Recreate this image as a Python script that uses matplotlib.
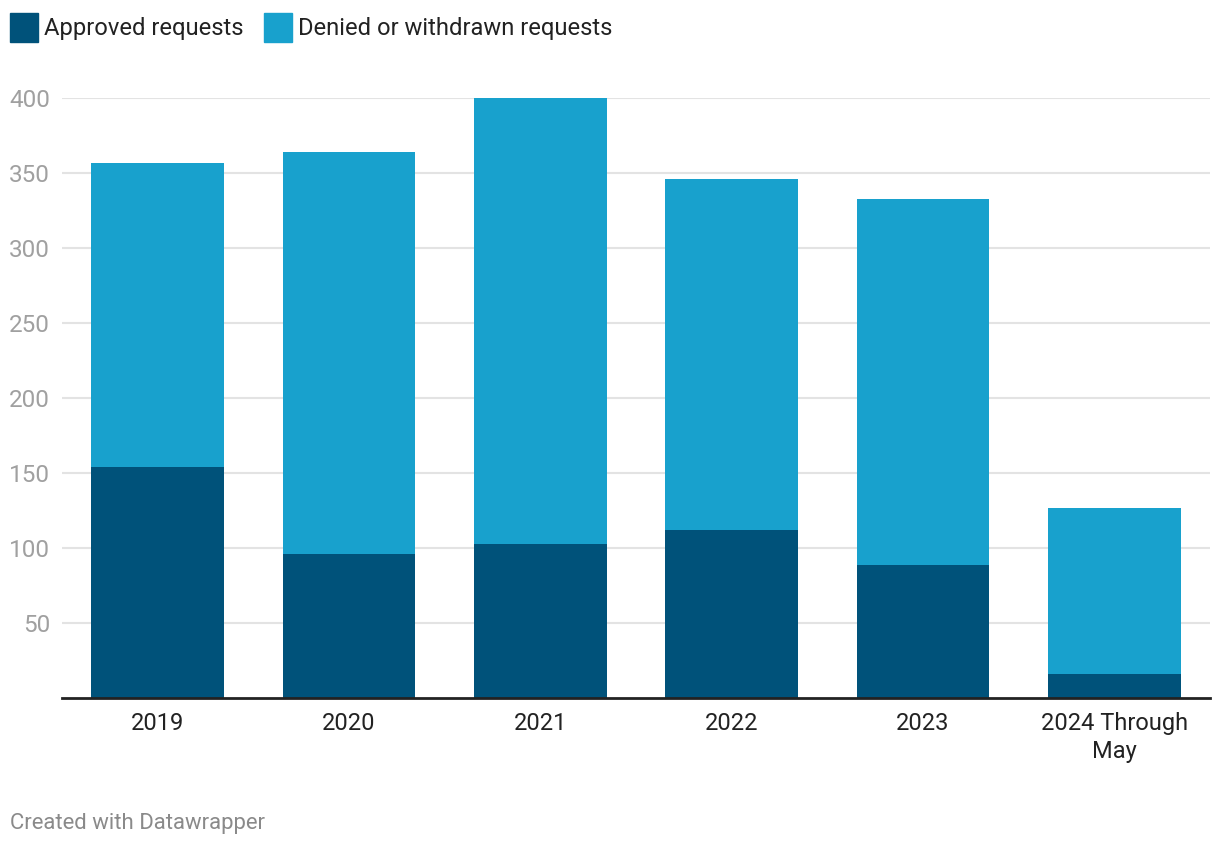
import matplotlib
matplotlib.use("Agg")
import matplotlib.pyplot as plt
from matplotlib.patches import Rectangle

plt.rcParams["font.family"] = ["Roboto", "DejaVu Sans"]

years = ["2019", "2020", "2021", "2022", "2023", "2024 Through\nMay"]
approved = [154, 96, 103, 112, 89, 16]
denied = [203, 268, 297, 234, 244, 111]
y_ticks = [50, 100, 150, 200, 250, 300, 350, 400]

dark = "#00527a"
light = "#18a1cd"

fig = plt.figure(figsize=(12.2, 8.48), dpi=100)
ax = fig.add_axes([62 / 1220, 150 / 848, 1148 / 1220, 600 / 848])

x = list(range(len(years)))
ax.bar(x, approved, width=0.695, color=dark, zorder=2)
ax.bar(x, denied, width=0.695, bottom=approved, color=light, zorder=2)

ax.set_xlim(-0.5, 5.5)
ax.set_ylim(0, 400)
ax.set_yticks(y_ticks)
ax.set_yticklabels([str(v) for v in y_ticks])
ax.set_xticks(x)
ax.set_xticklabels(years, linespacing=1.27)

ax.grid(axis="y", color="#e3e3e3", linewidth=1.5, zorder=0)
for s in ["top", "right", "left"]:
    ax.spines[s].set_visible(False)
ax.spines["bottom"].set_color("#222222")
ax.spines["bottom"].set_linewidth(2)
ax.spines["bottom"].set_zorder(3)

ax.tick_params(axis="y", length=0, pad=8.6, labelsize=17.5, labelcolor="#a0a0a0")
ax.tick_params(axis="x", length=0, pad=10, labelsize=17, labelcolor="#222222")

# legend drawn by hand, Datawrapper style
items = [("Approved requests", dark, 10), ("Denied or withdrawn requests", light, 264)]
for label, col, px in items:
    fig.patches.append(Rectangle((px / 1220, (848 - 42) / 848), 28 / 1220, 29 / 848,
                                 transform=fig.transFigure, color=col))
    fig.text((px + 34) / 1220, (848 - 29) / 848, label, fontsize=17.1,
             color="#222222", va="center", ha="left")

fig.text(10 / 1220, (848 - 824) / 848, "Created with Datawrapper", fontsize=15.9,
         color="#8a8a8a", va="center", ha="left")

fig.savefig("out.png", dpi=100)
